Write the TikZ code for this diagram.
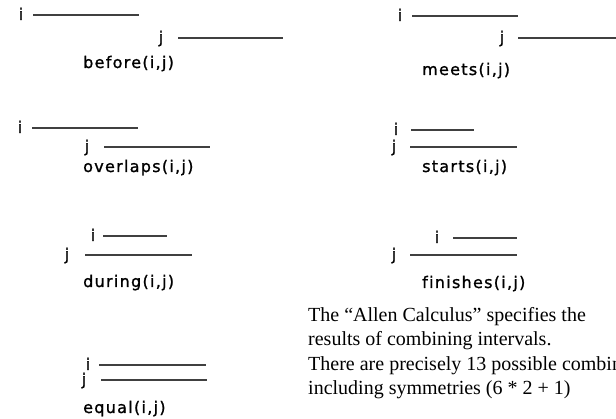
\documentclass[tikz,border=0pt]{standalone}
\usepackage{fontspec}
\usetikzlibrary{positioning}
\newfontfamily\relfont{DejaVu Sans}[LetterSpace=8, FakeBold=1.2, Ligatures=NoCommon]
\newfontfamily\tagfont{DejaVu Sans}[FakeBold=1.2]
\newfontfamily\notefont{Liberation Serif}
\definecolor{barcolor}{HTML}{404040}
\tikzset{
  bar/.style={line width=1.2pt, color=barcolor},
  tag/.style={anchor=base, inner sep=0pt, font=\tagfont\fontsize{16}{18}\selectfont},
  relname/.style={anchor=base west, inner sep=0pt, font=\relfont\fontsize{16}{18}\selectfont}
}

\begin{document}
\begin{tikzpicture}[x=1pt, y=-1pt]
    \clip (0,0) rectangle (616,419);

    % before
    \node[tag] (bi) at (21,20) {i};
    \node[tag] (bj) at (161,43) {j};
    \draw[bar] (33,15) -- (139,15);
    \draw[bar] (178,38) -- (283,38);
    \node[relname] (before) at (83,68) {before(i,j)};

    % meets
    \node[tag] (mi) at (400,21) {i};
    \node[tag] (mj) at (502,43) {j};
    \draw[bar] (412,16) -- (518,16) coordinate (mmid);
    \draw[bar] (mmid |- 0,38) -- (622,38);
    \node[relname] (meets) at (422,75) {meets(i,j)};

    % overlaps
    \node[tag] (oi) at (20,133) {i};
    \node[tag] (oj) at (87,152) {j};
    \draw[bar] (32,128) -- (138,128);
    \draw[bar] (104,147) -- (210,147);
    \node[relname] (overlaps) at (83,172) {overlaps(i,j)};

    % starts
    \node[tag] (si) at (396,135) {i};
    \node[tag] (sj) at (394,152) {j};
    \draw[bar] (411,130) -- (474,130);
    \draw[bar] (410,147) -- (517,147);
    \node[relname] (starts) at (422,172) {starts(i,j)};

    % during
    \node[tag] (di) at (93,241) {i};
    \node[tag] (dj) at (67,260) {j};
    \draw[bar] (103,236) -- (167,236);
    \draw[bar] (85,255) -- (192,255);
    \node[relname] (during) at (83,287) {during(i,j)};

    % finishes
    \node[tag] (fi) at (437,243) {i};
    \node[tag] (fj) at (394,260) {j};
    \draw[bar] (453,238) -- (517,238);
    \draw[bar] (410,255) -- (517,255);
    \node[relname] (finishes) at (422,288) {finishes(i,j)};

    % equal
    \node[tag] (ei) at (88,370) {i};
    \node[tag] (ej) at (84,385) {j};
    \draw[bar] (99,365) -- (206,365);
    \draw[bar] (101,380) -- (207,380);
    \node[relname] (equal) at (83,413) {equal(i,j)};

    % note (base = last line)
    \node[anchor=base west, inner sep=0pt, align=left,
          font=\notefont\fontsize{20}{24.5}\selectfont] (note) at (308,395)
      {The “Allen Calculus” specifies the\\
       results of combining intervals.\\
       There are precisely 13 possible combinations,\\
       including symmetries (6 * 2 + 1)};
\end{tikzpicture}
\end{document}
